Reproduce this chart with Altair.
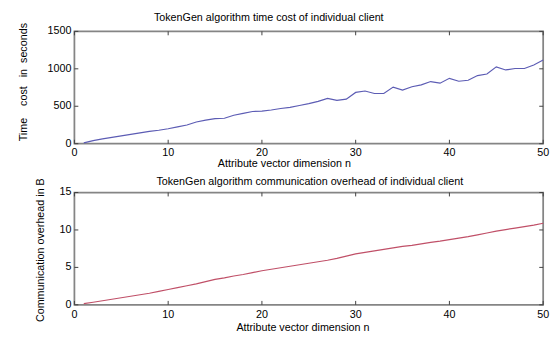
import altair as alt
import pandas as pd

n_values = list(range(1, 51))
time_cost = [10, 40, 65, 85, 105, 125, 145, 165, 180, 200,
             225, 250, 290, 315, 335, 340, 380, 405, 430, 435,
             450, 470, 485, 510, 535, 565, 605, 578, 595, 685,
             704, 670, 670, 756, 717, 760, 785, 830, 808, 873,
             834, 847, 910, 930, 1026, 985, 1004, 1004, 1050, 1117]
comm_overhead = [0.15, 0.35, 0.55, 0.75, 0.95, 1.15, 1.35, 1.55, 1.8, 2.05,
                 2.3, 2.55, 2.8, 3.1, 3.4, 3.6, 3.85, 4.05, 4.3, 4.55,
                 4.75, 4.95, 5.15, 5.35, 5.55, 5.75, 5.95, 6.2, 6.5, 6.8,
                 7.0, 7.2, 7.4, 7.6, 7.8, 7.95, 8.15, 8.35, 8.5, 8.7,
                 8.9, 9.1, 9.35, 9.6, 9.85, 10.05, 10.25, 10.45, 10.65, 10.9]
x_ticks = [0, 10, 20, 30, 40, 50]
time_ticks = [0, 500, 1000, 1500]
comm_ticks = [0, 5, 10, 15]

x_title = "Attribute vector dimension n"
top_title = "TokenGen algorithm time cost of individual client"
top_ytitle = "Time\u00a0\u00a0\u00a0 cost\u00a0\u00a0 in\u00a0 seconds"
bottom_title = "TokenGen algorithm communication overhead of individual client"
bottom_ytitle = "Communication overhead in B"

FONT = "Liberation Sans"
W, H = 480, 115
TICK_COLOR = "#404040"
FRAME_COLOR = "#858585"


def label(text, x, y, size=11, angle=0):
    return alt.Chart(pd.DataFrame({"s": [text]})).mark_text(
        font=FONT, fontSize=size, color="#000", angle=angle,
        align="center", baseline="middle").encode(
        text="s:N", x=alt.value(x), y=alt.value(y))


def panel(yvals, color, ydomain, yticks, ytitle, title, title_xy, ytitle_xy, xtitle_xy):
    df = pd.DataFrame({"n": n_values, "v": yvals})
    tx = pd.DataFrame({"n": x_ticks})
    ty = pd.DataFrame({"v": yticks})
    xs = alt.Scale(domain=[0, 50], nice=False, zero=False)
    ys = alt.Scale(domain=ydomain, nice=False, zero=False)
    X = alt.X("n:Q", scale=xs, axis=None)
    Y = alt.Y("v:Q", scale=ys, axis=None)

    frame = alt.Chart(pd.DataFrame({"a": [0]})).mark_rect(
        filled=False, stroke=FRAME_COLOR, strokeWidth=1.8).encode(
        x=alt.value(0), x2=alt.value(W), y=alt.value(0), y2=alt.value(H))
    line = alt.Chart(df).mark_line(color=color, strokeWidth=1.2).encode(x=X, y=Y)
    xt_top = alt.Chart(tx).mark_rule(color=TICK_COLOR).encode(
        x=X, y=alt.value(0), y2=alt.value(4))
    xt_bot = alt.Chart(tx).mark_rule(color=TICK_COLOR).encode(
        x=X, y=alt.value(H), y2=alt.value(H - 4))
    yt_left = alt.Chart(ty).mark_rule(color=TICK_COLOR).encode(
        y=Y, x=alt.value(0), x2=alt.value(4))
    yt_right = alt.Chart(ty).mark_rule(color=TICK_COLOR).encode(
        y=Y, x=alt.value(W), x2=alt.value(W - 4))
    xlab = alt.Chart(tx).mark_text(
        font=FONT, fontSize=11, color="#000", baseline="middle").encode(
        x=X, y=alt.value(H + 10), text=alt.Text("n:Q", format="d"))
    ylab = alt.Chart(ty).mark_text(
        font=FONT, fontSize=11, color="#000", align="right", baseline="middle").encode(
        y=Y, x=alt.value(-3), text=alt.Text("v:Q", format="d"))
    return alt.layer(
        frame, line, xt_top, xt_bot, yt_left, yt_right, xlab, ylab,
        label(title, *title_xy),
        label(x_title, *xtitle_xy),
        label(ytitle, *ytitle_xy, angle=270),
    ).properties(width=W, height=H)


top = panel(time_cost, "#5c5cb4", [0, 1500], time_ticks, top_ytitle, top_title,
            (199, -14), (-52, 52), (215, H + 21))
bottom = panel(comm_overhead, "#c05068", [0, 15], comm_ticks, bottom_ytitle, bottom_title,
               (241, -11), (-34, 59), (234, H + 24))

chart = alt.vconcat(top, bottom, spacing=50, bounds="flush").properties(
    padding={"left": 10, "top": 0, "right": 0, "bottom": 0},
    background="white",
).configure_view(stroke=None)

chart.save("out.html", embed_options={"renderer": "svg", "actions": False})
